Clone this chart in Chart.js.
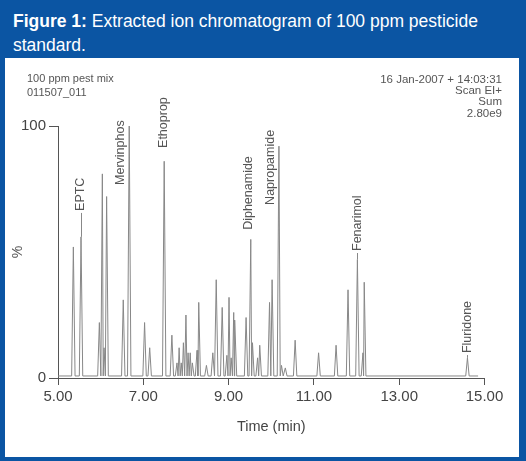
<!DOCTYPE html>
<html>
<head>
<meta charset="utf-8">
<script src="https://cdn.jsdelivr.net/npm/chart.js@4"></script>
<style>
  html, body { margin: 0; padding: 0; }
  body {
    width: 526px; height: 461px; overflow: hidden; position: relative;
    background: #0b55a3;
    font-family: 'Liberation Sans', Arial, sans-serif;
  }
  #header {
    position: absolute; left: 13px; top: 9px;
    color: #fff; font-size: 17.5px; line-height: 24px; white-space: nowrap;
  }
  #header b { font-weight: bold; }
  #panel {
    position: absolute; left: 5px; top: 58px; width: 514px; height: 399px;
    background: #fff;
  }
  #chart { position: absolute; left: 0; top: 0; }
  .info { position: absolute; color: #555; white-space: nowrap; }
  #info-left { left: 22px; top: 13px; font-size: 11px; line-height: 14px; }
  #info-right { right: 17px; top: 15.5px; font-size: 11.5px; line-height: 11.4px; text-align: right; }
</style>
</head>
<body>
<div id="header"><b>Figure 1:</b> Extracted ion chromatogram of 100 ppm pesticide<br>standard.</div>
<div id="panel">
  <canvas id="chart" width="514" height="399" style="width:514px;height:399px"></canvas>
  <div class="info" id="info-left">100 ppm pest mix<br>011507_011</div>
  <div class="info" id="info-right">16 Jan-2007 + 14:03:31<br>Scan EI+<br>Sum<br>2.80e9</div>
</div>

<script>
// Retention time (min) and relative abundance (%) of each peak
const peakTimes = [
    5.36, 5.54, 5.97, 6.04, 6.08, 6.14, 6.53, 6.67, 7.03, 7.15,
    7.49, 7.67, 7.79, 7.84, 7.89, 7.94, 8.00, 8.05, 8.10, 8.15,
    8.26, 8.30, 8.48, 8.63, 8.71, 8.85, 8.96, 9.01, 9.06, 9.12,
    9.15, 9.41, 9.52, 9.56, 9.68, 9.73, 9.96, 10.02, 10.18, 10.24,
    10.33, 10.56, 11.11, 11.52, 11.80, 12.02, 12.15, 12.18, 14.60
];
const peakHeights = [
    52, 56, 22, 81, 12, 72, 31, 100, 22, 12,
    86, 17, 6, 12, 6, 14, 25, 10, 10, 6,
    11, 30, 5, 10, 39, 28, 9, 32, 8, 26,
    23, 24, 55, 14, 8, 13, 30, 39, 92, 5,
    4, 15, 10, 13, 35, 47, 10, 38, 8
];
const baseline = 0.8;
const traceStart = 5.0;
const traceEnd = 14.85;

// Compound annotations: name, time and level (%) where the label starts
const labelNames = ['EPTC', 'Mervinphos', 'Ethoprop', 'Diphenamide', 'Napropamide', 'Fenarimol', 'Fluridone'];
const labelTimes = [5.54, 6.46, 7.47, 9.46, 9.98, 12.02, 14.60];
const labelLevels = [65.5, 75.8, 90.5, 58, 67.9, 49.6, 9.1];

const xTicks = [5, 7, 9, 11, 13, 15];
const yTicks = [0, 100];

// peak shape (min), kept apart from the data
const halfWidth = 0.04;

function buildTrace() {
    const pts = [{ x: traceStart, y: baseline }];
    peakTimes.forEach((t, i) => {
        const prev = i > 0 ? peakTimes[i - 1] : -Infinity;
        const next = i < peakTimes.length - 1 ? peakTimes[i + 1] : Infinity;
        const left = Math.max(t - halfWidth, (t + prev) / 2);
        const right = Math.min(t + halfWidth, (t + next) / 2);
        pts.push({ x: left, y: baseline }, { x: t, y: peakHeights[i] }, { x: right, y: baseline });
    });
    pts.push({ x: traceEnd, y: baseline });
    return pts;
}

const peakLabelPlugin = {
    id: 'peakLabels',
    afterDatasetsDraw(chart) {
        const { ctx, scales: { x, y } } = chart;
        ctx.save();
        ctx.font = "12.5px 'Liberation Sans', Arial, sans-serif";
        ctx.fillStyle = '#555';
        ctx.strokeStyle = '#888';
        ctx.lineWidth = 1;
        labelNames.forEach((name, i) => {
            const px = x.getPixelForValue(labelTimes[i]);
            const py = y.getPixelForValue(labelLevels[i]);
            // leader line from the apex when the label sits right above its peak
            const k = peakTimes.findIndex(t => Math.abs(t - labelTimes[i]) < 0.005);
            if (k >= 0 && peakHeights[k] < labelLevels[i]) {
                ctx.beginPath();
                ctx.moveTo(Math.round(px) + 0.5, y.getPixelForValue(peakHeights[k]));
                ctx.lineTo(Math.round(px) + 0.5, py);
                ctx.stroke();
            }
            ctx.save();
            ctx.translate(px, py);
            ctx.rotate(-Math.PI / 2);
            ctx.textAlign = 'left';
            ctx.textBaseline = 'middle';
            ctx.fillText(name, 2, 0);
            ctx.restore();
        });
        ctx.restore();
    }
};

Chart.defaults.font.family = "'Liberation Sans', Arial, sans-serif";

new Chart(document.getElementById('chart'), {
    type: 'line',
    data: {
        datasets: [{
            data: buildTrace(),
            borderColor: '#888',
            borderWidth: 1,
            pointRadius: 0,
            tension: 0,
            fill: false
        }]
    },
    options: {
        responsive: false,
        animation: false,
        parsing: false,
        layout: { padding: { left: 5, right: 34.5, top: 68, bottom: 21 } },
        plugins: { legend: { display: false }, tooltip: { enabled: false } },
        scales: {
            x: {
                type: 'linear',
                min: xTicks[0],
                max: xTicks[xTicks.length - 1],
                afterBuildTicks: (s) => { s.ticks = xTicks.map(v => ({ value: v })); },
                afterFit: (s) => { s.height = 58; },
                grid: { drawOnChartArea: false, drawTicks: true, tickLength: 7, color: '#555' },
                border: { display: true, color: '#555' },
                ticks: {
                    color: '#444', font: { size: 15 }, padding: 3, maxRotation: 0, autoSkip: false,
                    callback: v => v.toFixed(2)
                },
                title: { display: true, text: 'Time (min)', color: '#444', font: { size: 14.5 }, padding: { top: 0, bottom: 0 } }
            },
            y: {
                min: yTicks[0],
                max: yTicks[yTicks.length - 1],
                afterBuildTicks: (s) => { s.ticks = yTicks.map(v => ({ value: v })); },
                afterFit: (s) => { s.width = 48; },
                grid: { drawOnChartArea: false, drawTicks: true, tickLength: 9, color: '#555' },
                border: { display: true, color: '#555' },
                ticks: { color: '#444', font: { size: 15 }, padding: 3 },
                title: { display: true, text: '%', color: '#555', font: { size: 14 }, padding: { top: 0, bottom: 0 } }
            }
        }
    },
    plugins: [peakLabelPlugin]
});
</script>
</body>
</html>
